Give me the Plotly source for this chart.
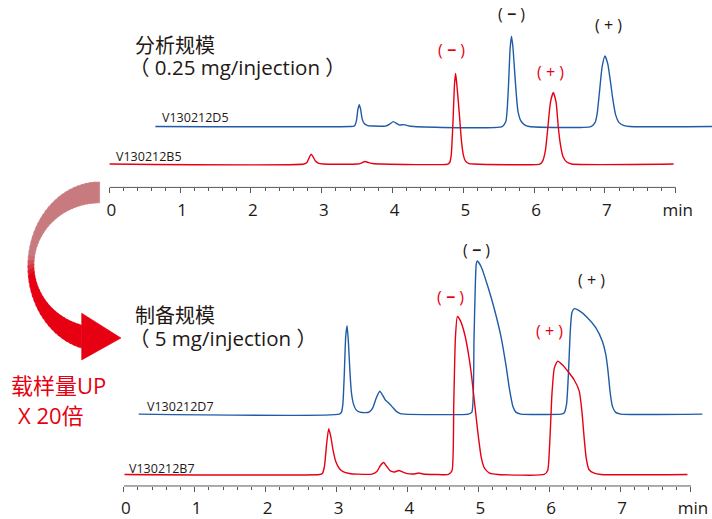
import math
import plotly.graph_objects as go

# ---------------- data (retention time in min, signal height) ----------------
D5_TIME = [0.65, 3.40, 3.46, 3.49, 3.51, 3.53, 3.55, 3.57, 3.60, 3.65, 3.75, 3.90, 3.96, 4.01, 4.06, 4.10,
           4.16, 4.21, 4.30, 5.55, 5.60, 5.62, 5.64, 5.66, 5.68, 5.70, 5.72, 5.745, 5.77, 5.81, 5.86, 5.93,
           6.80, 6.86, 6.89, 6.92, 6.96, 7.00, 7.04, 7.08, 7.11, 7.15, 7.20, 7.27, 7.35, 8.52]
D5_SIGNAL = [0, 0, 0.5, 6, 17, 22, 17, 8, 3, 1, 0.5, 0.5, 2.5, 5, 3, 1.5,
             2, 1, 0, 0, 5, 18, 45, 78, 91, 80, 60, 35, 16, 6, 2, 0,
             0, 4, 13, 33, 60, 71, 63, 44, 28, 12, 4, 1, 0, 0]

B5_TIME = [0.0, 2.75, 2.79, 2.82, 2.85, 2.88, 2.91, 2.95, 3.02, 3.50, 3.56, 3.61, 3.66, 3.72, 3.85,
           4.78, 4.81, 4.83, 4.855, 4.875, 4.89, 4.905, 4.93, 4.95, 4.975, 5.00, 5.03, 5.08, 5.15,
           6.08, 6.12, 6.16, 6.19, 6.23, 6.27, 6.31, 6.34, 6.37, 6.41, 6.46, 6.53, 7.97]
B5_SIGNAL = [0, 0, 1.5, 6, 10, 7, 3, 1, 0, 0, 1, 2.5, 1.5, 0.5, 0,
             0, 2, 10, 45, 80, 91, 82, 62, 44, 22, 9, 3, 0.5, 0,
             0, 3, 14, 34, 62, 72, 62, 38, 20, 7, 2, 0, 0]

D7_TIME = [0.21, 3.04, 3.07, 3.09, 3.11, 3.13, 3.15, 3.17, 3.19, 3.21, 3.24, 3.28, 3.33, 3.40, 3.46, 3.51,
           3.56, 3.61, 3.65, 3.69, 3.74, 3.79, 3.84, 3.90, 3.96, 4.86, 4.91, 4.94, 4.97, 4.986, 5.042,
           5.136, 5.229, 5.323, 5.393, 5.44, 5.487, 5.534, 5.60, 6.17, 6.21, 6.245, 6.273, 6.297, 6.32,
           6.353, 6.423, 6.54, 6.657, 6.751, 6.798, 6.83, 6.858, 6.891, 6.938, 7.01, 8.16]
D7_SIGNAL = [0, 0, 2, 10, 40, 78, 89, 70, 42, 22, 10, 4, 2, 1.5, 2, 6,
             16, 23, 19, 14, 11, 7, 3, 0.5, 0, 0, 2, 77, 150, 154, 148,
             128, 105, 77, 48, 25, 8, 1.7, 0, 0, 1, 10, 43, 83, 102,
             106, 104, 97, 87, 73, 60, 43, 23, 8, 1.7, 0, 0]

B7_TIME = [0.01, 2.76, 2.80, 2.83, 2.86, 2.89, 2.92, 2.95, 2.99, 3.04, 3.10, 3.18, 3.30, 3.50, 3.57, 3.62,
           3.665, 3.71, 3.76, 3.82, 3.88, 3.93, 4.00, 4.10, 4.16, 4.22, 4.40, 4.58, 4.63, 4.654, 4.677,
           4.705, 4.752, 4.808, 4.855, 4.902, 4.949, 4.996, 5.042, 5.089, 5.159, 5.28, 5.93, 5.979,
           6.011, 6.039, 6.072, 6.119, 6.189, 6.26, 6.353, 6.423, 6.461, 6.493, 6.521, 6.563, 6.634,
           6.73, 7.95]
B7_SIGNAL = [0, 0, 1, 8, 30, 46, 38, 25, 13, 6, 2.5, 1, 0.3, 0.3, 3, 9,
             12, 8, 3.5, 2.5, 4, 2.5, 0.8, 0.5, 1.5, 0.5, 0, 0, 4, 71, 137,
             159, 154, 141, 124, 101, 71, 41, 17, 6, 1.3, 0, 0, 4,
             37, 81, 107, 114, 110, 104, 95, 84, 64, 37, 17, 4.7, 1.3,
             0, 0]

TICK_VALUES = [0, 1, 2, 3, 4, 5, 6, 7, 8]
TICK_LABELS = ["0", "1", "2", "3", "4", "5", "6", "7", "min"]
MINOR_TICKS = [round(i * 0.2, 1) for i in range(41) if i % 5 != 0]

TRACE_NAMES = ["V130212D5", "V130212B5", "V130212D7", "V130212B7"]

# ---------------- styling / layout constants ----------------
W, H = 712, 519
BLUE = "#1f5ba6"
RED = "#e60012"
INK = "#231815"
AXC = "#595757"
FONT = "Open Sans, Noto Sans CJK SC, sans-serif"


def px(x):
    return x / W


def py(y):
    return 1 - y / H


fig = go.Figure()

# baselines offsets in each panel (vertical stacking of chromatograms)
TOP_BLUE_OFF, TOP_RED_OFF = 61.2, 23.5
BOT_BLUE_OFF, BOT_RED_OFF = 72.3, 11.6

line_kw = dict(shape="spline", smoothing=0.5)

fig.add_trace(go.Scatter(x=D5_TIME, y=[v + TOP_BLUE_OFF for v in D5_SIGNAL], mode="lines",
                         line=dict(color=BLUE, width=1.4, **line_kw), xaxis="x", yaxis="y",
                         name=TRACE_NAMES[0], hoverinfo="skip"))
fig.add_trace(go.Scatter(x=B5_TIME, y=[v + TOP_RED_OFF for v in B5_SIGNAL], mode="lines",
                         line=dict(color=RED, width=1.4, **line_kw), xaxis="x", yaxis="y",
                         name=TRACE_NAMES[1], hoverinfo="skip"))
fig.add_trace(go.Scatter(x=D7_TIME, y=[v + BOT_BLUE_OFF for v in D7_SIGNAL], mode="lines",
                         line=dict(color=BLUE, width=1.4, **line_kw), xaxis="x2", yaxis="y2",
                         name=TRACE_NAMES[2], hoverinfo="skip"))
fig.add_trace(go.Scatter(x=B7_TIME, y=[v + BOT_RED_OFF for v in B7_SIGNAL], mode="lines",
                         line=dict(color=RED, width=1.4, **line_kw), xaxis="x2", yaxis="y2",
                         name=TRACE_NAMES[3], hoverinfo="skip"))

# axes
TOP_X0, TOP_UNIT, TOP_AXIS_Y = 106.8, 71.1, 188.5
BOT_X0, BOT_UNIT, BOT_AXIS_Y, BOT_TOP = 121.3, 71.2, 488.8, 240


def xaxis_cfg(x0, unit, anchor):
    return dict(
        domain=[px(x0), 1], range=[0, (W - x0) / unit], anchor=anchor,
        tickmode="array", tickvals=TICK_VALUES, ticktext=TICK_LABELS,
        ticks="outside", ticklen=5, tickwidth=1, tickcolor=AXC,
        tickfont=dict(family=FONT, size=17, color=INK),
        ticklabelshift=2, ticklabelstandoff=2,
        minor=dict(tickmode="array", tickvals=MINOR_TICKS, ticks="outside",
                   ticklen=3, tickwidth=1, tickcolor=AXC, showgrid=False),
        showline=False, showgrid=False, zeroline=False, fixedrange=True,
    )


fig.update_layout(
    xaxis=xaxis_cfg(TOP_X0, TOP_UNIT, "y"),
    yaxis=dict(domain=[py(TOP_AXIS_Y), 1], range=[0, TOP_AXIS_Y], visible=False, fixedrange=True),
    xaxis2=xaxis_cfg(BOT_X0, BOT_UNIT, "y2"),
    yaxis2=dict(domain=[py(BOT_AXIS_Y), py(BOT_TOP)], range=[0, BOT_AXIS_Y - BOT_TOP],
                visible=False, fixedrange=True),
)

shapes = []
# axis lines (0 to 8 min)
shapes.append(dict(type="line", xref="x", yref="y domain", x0=0, x1=8, y0=0, y1=0,
                   line=dict(color=AXC, width=1)))
shapes.append(dict(type="line", xref="x2", yref="y2 domain", x0=0, x1=8, y0=0, y1=0,
                   line=dict(color=AXC, width=1)))

# curved arrow (decoration) built from band segments with a colour transition
cx = 97.0
cyo, ao, bo = 267.9, 72.0, 84.9
cyi, ai, bi = 266.7, 66.0, 62.7
po_end = math.degrees(math.acos((79 - cx) / ao))
pi_end = math.degrees(math.acos((79 - cx) / ai))
PINK = (200, 123, 126)
REDC = (230, 0, 18)


def outer(s):
    f = math.radians(270 - s * (270 - po_end))
    return cx + ao * math.cos(f), cyo + bo * math.sin(f)


def inner(s):
    f = math.radians(270 - s * (270 - pi_end))
    return cx + ai * math.cos(f), cyi + bi * math.sin(f)


N = 48
for k in range(N):
    s0 = k / N
    s1 = min(1.0, (k + 1) / N + 0.006)
    sm = (k + 0.5) / N
    tcol = min(1.0, max(0.0, (sm - 0.50) / 0.09))
    col = tuple(round(PINK[i] + (REDC[i] - PINK[i]) * tcol) for i in range(3))
    colstr = "rgb(%d,%d,%d)" % col
    pts = [outer(s0), outer(s1), inner(s1), inner(s0)]
    path = "M " + " L ".join("%.5f,%.5f" % (px(x), py(y)) for x, y in pts) + " Z"
    shapes.append(dict(type="path", xref="paper", yref="paper", path=path,
                       fillcolor=colstr, line=dict(color=colstr, width=0.6), layer="above"))

head = [(79, 315), (118.5, 340), (79, 362)]
path = "M " + " L ".join("%.5f,%.5f" % (px(x), py(y)) for x, y in head) + " Z"
shapes.append(dict(type="path", xref="paper", yref="paper", path=path,
                   fillcolor="rgb(230,0,18)", line=dict(color="rgb(230,0,18)", width=0.6)))

fig.update_layout(shapes=shapes)

# text
ann = []


def text(t, x, y, size, color=INK, xanchor="left"):
    ann.append(dict(text=t, x=px(x), y=py(y), xref="paper", yref="paper", xanchor=xanchor,
                    yanchor="middle", showarrow=False, font=dict(family=FONT, size=size, color=color)))


text("分析规模", 131, 46, 20)
text("（ 0.25 mg/injection ）", 125, 67.5, 20.5)
text("制备规模", 131, 317, 20)
text("（ 5 mg/injection ）", 125, 339.5, 20.5)

text(TRACE_NAMES[0], 158, 118.5, 12.5)
text(TRACE_NAMES[1], 111, 157, 12.5)
text(TRACE_NAMES[2], 143, 409, 12.5)
text(TRACE_NAMES[3], 125, 471, 12.5)

MINUS = "( <b>−</b> )"
PLUS = "( + )"
text(MINUS, 511, 14, 16, INK, "center")
text(PLUS, 608, 25, 16, INK, "center")
text(MINUS, 450, 50, 16, RED, "center")
text(PLUS, 550, 72, 16, RED, "center")

text(MINUS, 476, 251, 16, INK, "center")
text(PLUS, 591, 282, 16, INK, "center")
text(MINUS, 449, 299, 16, RED, "center")
text(PLUS, 549, 333, 16, RED, "center")

text("载样量UP", 6, 387, 22, RED)
text("X 20倍", 13, 417, 22, RED)

fig.update_layout(
    annotations=ann,
    width=W, height=H,
    margin=dict(l=0, r=0, t=0, b=0),
    paper_bgcolor="white", plot_bgcolor="white",
    showlegend=False,
)

fig.write_html("out.html", config={"displayModeBar": False},
               post_script="document.body.style.margin='0';document.body.style.padding='0';")
